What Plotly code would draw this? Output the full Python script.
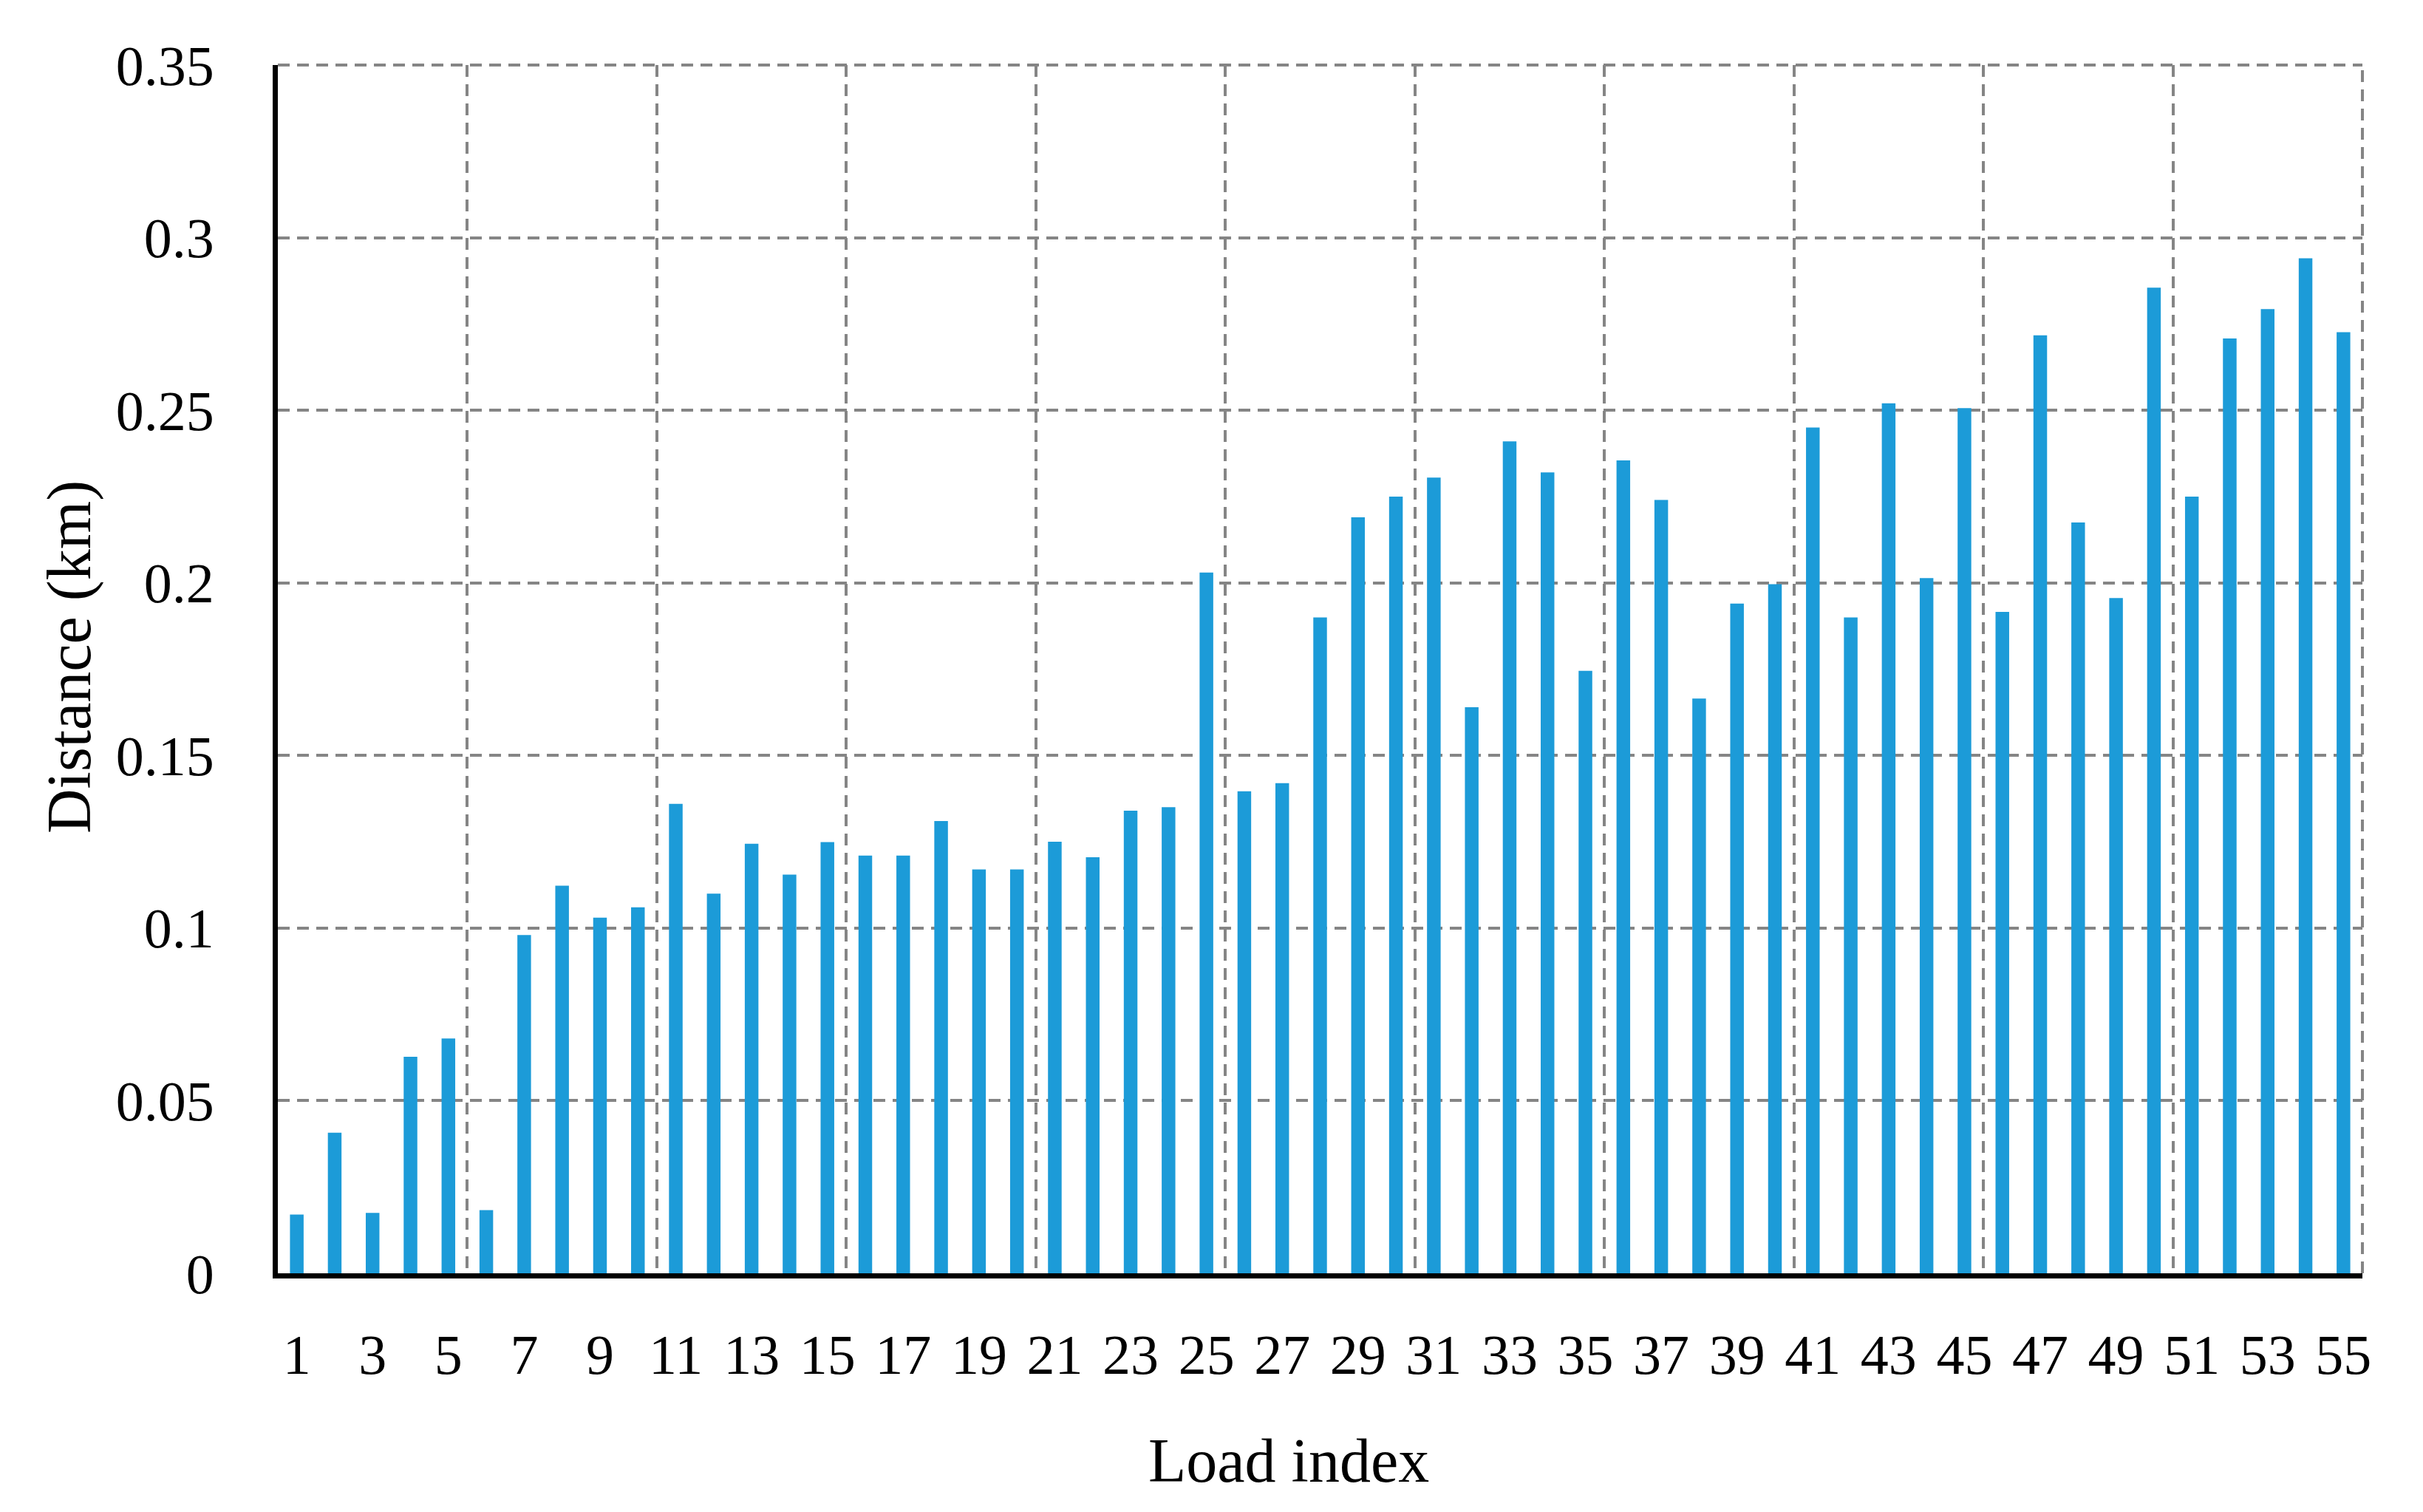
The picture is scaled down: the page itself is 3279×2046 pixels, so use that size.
import plotly.graph_objects as go

load_index = list(range(1, 56))
distance_km = [
    0.017, 0.0407, 0.0175, 0.0627, 0.068, 0.0183, 0.098, 0.1123, 0.103, 0.106,
    0.136, 0.110, 0.1244, 0.1155, 0.1249, 0.121, 0.121, 0.131, 0.117, 0.117,
    0.125, 0.1205, 0.134, 0.135, 0.203, 0.1396, 0.142, 0.190, 0.219, 0.225,
    0.2305, 0.164, 0.241, 0.232, 0.1745, 0.2355, 0.224, 0.1665, 0.194, 0.1996,
    0.245, 0.190, 0.252, 0.2014, 0.2506, 0.1916, 0.2717, 0.2175, 0.1956, 0.2855,
    0.225, 0.2708, 0.2793, 0.294, 0.2726,
]
x_tick_vals = list(range(1, 56, 2))
x_grid_vals = [5.5 + 5 * i for i in range(11)]
y_tick_vals = [0, 0.05, 0.1, 0.15, 0.2, 0.25, 0.3, 0.35]
y_tick_text = ["0", "0.05", "0.1", "0.15", "0.2", "0.25", "0.3", "0.35"]

FONT = "Liberation Serif, DejaVu Serif, serif"
GRID = "#858585"
DASH = "16px,10px"

fig = go.Figure()

fig.add_trace(
    go.Bar(
        x=load_index,
        y=distance_km,
        width=0.36,
        marker=dict(color="#1C9BD8", line=dict(width=0)),
        showlegend=False,
    )
)

# invisible trace on the overlay axis so its gridlines get drawn
fig.add_trace(
    go.Scatter(x=[1], y=[0], xaxis="x2", mode="markers",
               marker=dict(opacity=0), showlegend=False, hoverinfo="skip")
)

fig.update_layout(
    width=3279,
    height=2046,
    margin=dict(l=368, r=90, t=80, b=331),
    plot_bgcolor="white",
    paper_bgcolor="white",
    font=dict(family=FONT, size=76, color="black"),
    xaxis=dict(
        range=[0.5, 55.5],
        tickvals=x_tick_vals,
        ticktext=[str(v) for v in x_tick_vals],
        showgrid=False,
        zeroline=False,
        showline=True,
        linecolor="black",
        linewidth=7,
        ticks="",
        ticklabelstandoff=38,
    ),
    xaxis2=dict(
        overlaying="x",
        range=[0.5, 55.5],
        tickvals=x_grid_vals,
        showticklabels=False,
        showgrid=True,
        gridcolor=GRID,
        gridwidth=4,
        griddash=DASH,
        zeroline=False,
        showline=False,
        ticks="",
    ),
    yaxis=dict(
        range=[0, 0.35],
        tickvals=y_tick_vals,
        ticktext=y_tick_text,
        showgrid=True,
        gridcolor=GRID,
        gridwidth=4,
        griddash=DASH,
        zeroline=False,
        showline=True,
        linecolor="black",
        linewidth=7,
        ticks="",
        ticklabelstandoff=64,
    ),
)

# axis titles as annotations, both sit a little off-centre in the original
fig.add_annotation(
    text="Distance (km)",
    xref="paper", yref="paper",
    x=-0.1, y=0.51,
    xanchor="center", yanchor="middle",
    textangle=-90,
    showarrow=False,
    font=dict(size=84),
)
fig.add_annotation(
    text="Load index",
    xref="paper", yref="paper",
    x=0.485, y=-0.155,
    xanchor="center", yanchor="middle",
    showarrow=False,
    font=dict(size=84),
)

# dashed border on top and right, like the gridlines
fig.add_shape(type="line", xref="paper", yref="paper", x0=0, x1=1, y0=1, y1=1,
              line=dict(color=GRID, width=4, dash=DASH))
fig.add_shape(type="line", xref="paper", yref="paper", x0=1, x1=1, y0=0, y1=1,
              line=dict(color=GRID, width=4, dash=DASH))

fig.write_html("out.html")
